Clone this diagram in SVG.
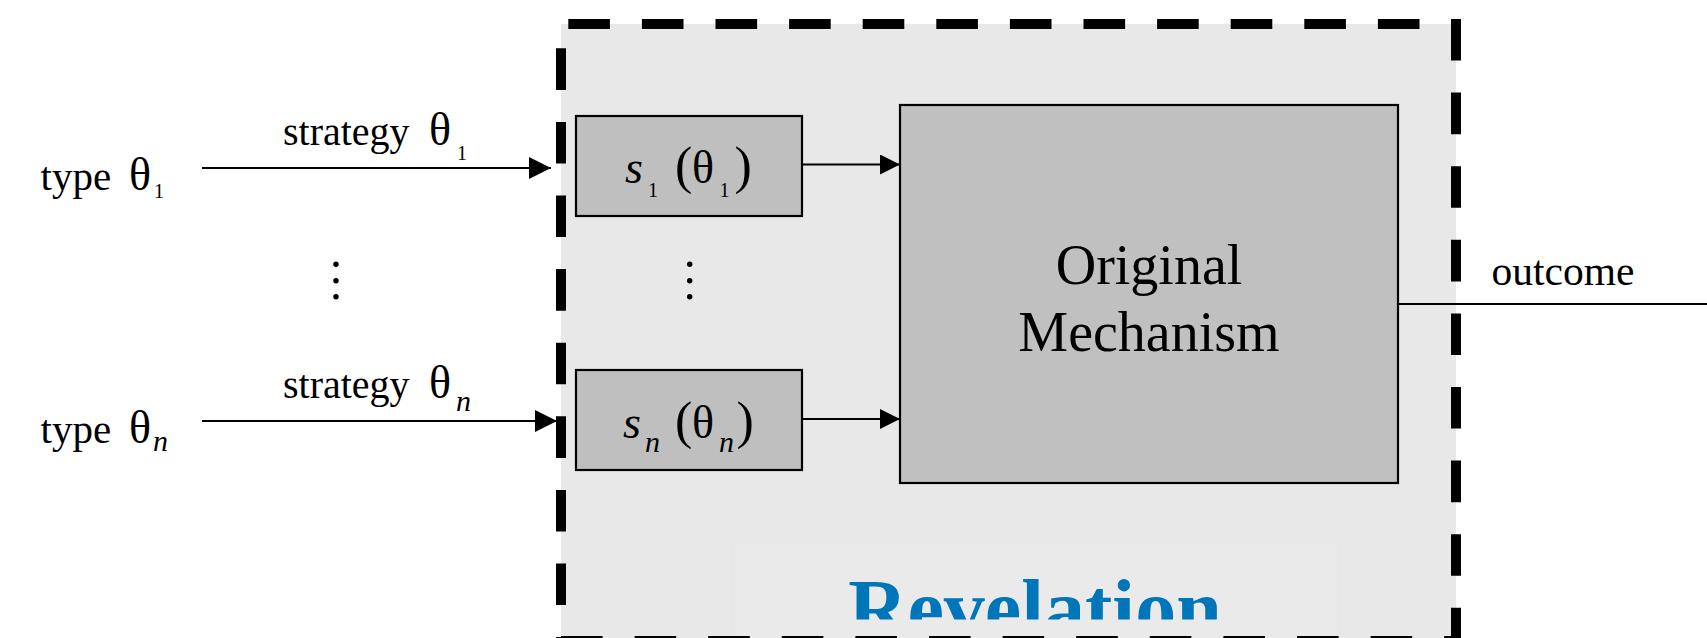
<svg xmlns="http://www.w3.org/2000/svg" width="1707" height="638" viewBox="0 0 1707 638">
  <style>
    .t { font-family: "Liberation Serif", "Times New Roman", serif; fill: #000; }
    .it { font-style: italic; }
    .sub { font-size: 20px; }
    .box { fill: #bfbfbf; stroke: #000; stroke-width: 2.2; }
    .conn { stroke: #000; stroke-width: 2.2; fill: none; }
    .dash { stroke: #000; stroke-width: 10; stroke-dasharray: 41.6 32; fill: none; }
    .dot { fill: #000; }
  </style>
  <defs>
    <marker id="ah" markerUnits="userSpaceOnUse" markerWidth="20" markerHeight="20" refX="20" refY="10" orient="auto">
      <path d="M0,0 L20,10 L0,20 z" fill="#000"/>
    </marker>
    <marker id="ahL" markerUnits="userSpaceOnUse" markerWidth="22" markerHeight="22" refX="22" refY="11" orient="auto">
      <path d="M0,0 L22,11 L0,22 z" fill="#000"/>
    </marker>
    <clipPath id="revClip">
      <rect x="561" y="24" width="895" height="595.5"/>
    </clipPath>
  </defs>

  <rect width="1707" height="638" fill="#fff"/>

  <!-- Revelation container -->
  <g id="revelation">
    <rect x="561" y="24" width="895" height="620" fill="#e8e8e8"/>
    <rect x="735" y="544" width="602" height="100" fill="#eaeaea"/>
    <text class="t" x="1035" y="636" font-size="82" font-weight="bold" text-anchor="middle" style="fill:#0076ba" clip-path="url(#revClip)">Revelation</text>
    <line class="dash" x1="561" y1="24" x2="1461" y2="24" stroke-dashoffset="66.3"/>
    <line class="dash" x1="1456" y1="19" x2="1456" y2="646"/>
    <line class="dash" x1="561" y1="24" x2="561" y2="646" stroke-dashoffset="49.3"/>
    <line class="dash" x1="561" y1="641" x2="1461" y2="641"/>
  </g>

  <!-- connectors -->
  <g id="connectors">
    <line class="conn" x1="202" y1="168" x2="551" y2="168" marker-end="url(#ahL)"/>
    <line class="conn" x1="202" y1="421" x2="557" y2="421" marker-end="url(#ahL)"/>
    <line class="conn" x1="802" y1="164.5" x2="900" y2="164.5" marker-end="url(#ah)"/>
    <line class="conn" x1="802" y1="419" x2="900" y2="419" marker-end="url(#ah)"/>
    <line class="conn" x1="1398" y1="304" x2="1707" y2="304"/>
    <text class="t" x="283" y="145" font-size="40">strategy</text>
    <text class="t" x="429" y="145" font-size="46">θ</text>
    <text class="t sub" x="457" y="160">1</text>
    <text class="t" x="283" y="398" font-size="40">strategy</text>
    <text class="t" x="429" y="398" font-size="46">θ</text>
    <text class="t it" x="456" y="411" font-size="30">n</text>
    <text class="t" x="1491.5" y="285" font-size="41.5">outcome</text>
  </g>

  <!-- inputs -->
  <g id="type-1">
    <text class="t" x="40.5" y="190" font-size="41">type</text>
    <text class="t" x="129" y="190" font-size="46">θ</text>
    <text class="t sub" x="154" y="198">1</text>
  </g>
  <g id="type-n">
    <text class="t" x="40.5" y="443" font-size="41">type</text>
    <text class="t" x="129" y="443" font-size="46">θ</text>
    <text class="t it" x="153" y="451" font-size="30">n</text>
  </g>
  <g id="dots-left">
    <circle class="dot" cx="336" cy="264.3" r="2.7"/>
    <circle class="dot" cx="336" cy="280.7" r="2.7"/>
    <circle class="dot" cx="336" cy="296.7" r="2.7"/>
  </g>

  <!-- strategy boxes -->
  <g id="s1">
    <rect class="box" x="576" y="116" width="226" height="100"/>
    <text class="t it" x="625" y="182.7" font-size="46">s</text>
    <text class="t sub" x="648" y="196.7">1</text>
    <text class="t" x="675" y="182.7" font-size="52">(</text>
    <text class="t" x="692" y="182.7" font-size="46">θ</text>
    <text class="t sub" x="719.5" y="196.7">1</text>
    <text class="t" x="734.5" y="182.7" font-size="52">)</text>
  </g>
  <g id="dots-mid">
    <circle class="dot" cx="689.7" cy="264.3" r="2.7"/>
    <circle class="dot" cx="689.7" cy="280.7" r="2.7"/>
    <circle class="dot" cx="689.7" cy="296.7" r="2.7"/>
  </g>
  <g id="sn">
    <rect class="box" x="576" y="370" width="226" height="100"/>
    <text class="t it" x="623" y="438.3" font-size="46">s</text>
    <text class="t it" x="645" y="451.7" font-size="30">n</text>
    <text class="t" x="675" y="438.3" font-size="52">(</text>
    <text class="t" x="692" y="438.3" font-size="46">θ</text>
    <text class="t it" x="719" y="451.7" font-size="30">n</text>
    <text class="t" x="736.5" y="438.3" font-size="52">)</text>
  </g>

  <!-- mechanism -->
  <g id="mechanism">
    <rect class="box" x="900" y="105" width="498" height="378" style="fill:#c0c0c0"/>
    <text class="t" x="1149" y="284" font-size="56" text-anchor="middle">Original</text>
    <text class="t" x="1149" y="351" font-size="56" text-anchor="middle">Mechanism</text>
  </g>
</svg>
